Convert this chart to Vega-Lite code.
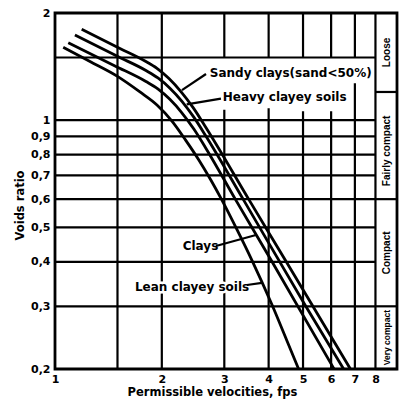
{
  "$schema": "https://vega.github.io/schema/vega-lite/v6.json",
  "width": 342,
  "height": 356,
  "autosize": {"type": "none"},
  "padding": {"left": 55, "top": 13, "right": 5, "bottom": 30},
  "background": "white",
  "config": {"view": {"stroke": "black", "strokeWidth": 2.8}, "font": "DejaVu Sans"},
  "datasets": {
    "curves": [
      {"soil": "Lean clayey soils", "x": 1.055, "y": 1.602},
      {"soil": "Lean clayey soils", "x": 1.255, "y": 1.461},
      {"soil": "Lean clayey soils", "x": 1.5, "y": 1.327},
      {"soil": "Lean clayey soils", "x": 1.735, "y": 1.2},
      {"soil": "Lean clayey soils", "x": 1.938, "y": 1.103},
      {"soil": "Lean clayey soils", "x": 2.136, "y": 0.994},
      {"soil": "Lean clayey soils", "x": 2.334, "y": 0.879},
      {"soil": "Lean clayey soils", "x": 2.543, "y": 0.773},
      {"soil": "Lean clayey soils", "x": 2.749, "y": 0.679},
      {"soil": "Lean clayey soils", "x": 2.944, "y": 0.6},
      {"soil": "Lean clayey soils", "x": 3.263, "y": 0.491},
      {"soil": "Lean clayey soils", "x": 3.606, "y": 0.4},
      {"soil": "Lean clayey soils", "x": 4.088, "y": 0.303},
      {"soil": "Lean clayey soils", "x": 4.498, "y": 0.241},
      {"soil": "Lean clayey soils", "x": 4.859, "y": 0.2},
      {"soil": "Clays", "x": 1.09, "y": 1.651},
      {"soil": "Clays", "x": 1.476, "y": 1.42},
      {"soil": "Clays", "x": 1.804, "y": 1.284},
      {"soil": "Clays", "x": 1.949, "y": 1.224},
      {"soil": "Clays", "x": 2.107, "y": 1.144},
      {"soil": "Clays", "x": 2.278, "y": 1.049},
      {"soil": "Clays", "x": 2.462, "y": 0.944},
      {"soil": "Clays", "x": 2.664, "y": 0.833},
      {"soil": "Clays", "x": 3.221, "y": 0.6},
      {"soil": "Clays", "x": 4.09, "y": 0.4},
      {"soil": "Clays", "x": 6.116, "y": 0.2},
      {"soil": "Heavy clayey soils", "x": 1.138, "y": 1.735},
      {"soil": "Heavy clayey soils", "x": 1.504, "y": 1.509},
      {"soil": "Heavy clayey soils", "x": 1.804, "y": 1.379},
      {"soil": "Heavy clayey soils", "x": 1.95, "y": 1.314},
      {"soil": "Heavy clayey soils", "x": 2.108, "y": 1.23},
      {"soil": "Heavy clayey soils", "x": 2.279, "y": 1.13},
      {"soil": "Heavy clayey soils", "x": 2.464, "y": 1.018},
      {"soil": "Heavy clayey soils", "x": 2.664, "y": 0.901},
      {"soil": "Heavy clayey soils", "x": 3.389, "y": 0.6},
      {"soil": "Heavy clayey soils", "x": 5.09, "y": 0.3},
      {"soil": "Heavy clayey soils", "x": 6.505, "y": 0.2},
      {"soil": "Sandy clays", "x": 1.189, "y": 1.8},
      {"soil": "Sandy clays", "x": 1.524, "y": 1.59},
      {"soil": "Sandy clays", "x": 1.793, "y": 1.466},
      {"soil": "Sandy clays", "x": 1.938, "y": 1.398},
      {"soil": "Sandy clays", "x": 2.095, "y": 1.309},
      {"soil": "Sandy clays", "x": 2.264, "y": 1.203},
      {"soil": "Sandy clays", "x": 2.448, "y": 1.086},
      {"soil": "Sandy clays", "x": 2.646, "y": 0.963},
      {"soil": "Sandy clays", "x": 3.513, "y": 0.6},
      {"soil": "Sandy clays", "x": 4.485, "y": 0.4},
      {"soil": "Sandy clays", "x": 6.8, "y": 0.2}
    ],
    "vgrid": [
      {"x": 1.5, "y1": 0.2, "y2": 2},
      {"x": 2, "y1": 0.2, "y2": 2},
      {"x": 3, "y1": 0.2, "y2": 1.07},
      {"x": 3, "y1": 1.5, "y2": 2},
      {"x": 4, "y1": 0.2, "y2": 1.08},
      {"x": 4, "y1": 1.5, "y2": 2},
      {"x": 5, "y1": 0.2, "y2": 1.06},
      {"x": 5, "y1": 1.5, "y2": 2},
      {"x": 6, "y1": 0.2, "y2": 1.06},
      {"x": 6, "y1": 1.5, "y2": 2},
      {"x": 7, "y1": 0.2, "y2": 1.27},
      {"x": 7, "y1": 1.5, "y2": 2},
      {"x": 8, "y1": 0.2, "y2": 2}
    ],
    "hgrid": [
      {"y": 1.5}, {"y": 1}, {"y": 0.9}, {"y": 0.8}, {"y": 0.7},
      {"y": 0.6}, {"y": 0.5}, {"y": 0.4}, {"y": 0.3}
    ],
    "bands": [
      {"band": "Loose", "y": 1.55, "sep": 1.2},
      {"band": "Fairly compact", "y": 0.82, "sep": 0.6},
      {"band": "Compact", "y": 0.424, "sep": 0.3},
      {"band": "Very compact", "y": 0.245, "sep": 0.2}
    ],
    "labels": [
      {"text": "Sandy clays(sand<50%)", "x": 2.73, "y": 1.36},
      {"text": "Heavy clayey soils", "x": 2.97, "y": 1.16},
      {"text": "Clays", "x": 2.29, "y": 0.443},
      {"text": "Lean clayey soils", "x": 1.68, "y": 0.34}
    ],
    "leaders": [
      {"lead": "Sandy clays", "x": 2.664, "y": 1.348},
      {"lead": "Sandy clays", "x": 2.279, "y": 1.215},
      {"lead": "Heavy clayey soils", "x": 2.935, "y": 1.15},
      {"lead": "Heavy clayey soils", "x": 2.35, "y": 1.107},
      {"lead": "Clays", "x": 2.841, "y": 0.443},
      {"lead": "Clays", "x": 3.684, "y": 0.4757},
      {"lead": "Lean clayey soils", "x": 3.474, "y": 0.3443},
      {"lead": "Lean clayey soils", "x": 3.83, "y": 0.349}
    ]
  },
  "layer": [
    {
      "data": {"name": "vgrid"},
      "mark": {"type": "rule", "color": "black", "strokeWidth": 2.2},
      "encoding": {
        "x": {"field": "x", "type": "quantitative", "scale": {"type": "log", "domain": [1, 9.2], "nice": false},
          "axis": {"values": [1, 2, 3, 4, 5, 6, 7, 8], "format": "~g", "title": "Permissible velocities, fps",
            "domain": false, "ticks": false, "grid": false, "labelFlush": false,
            "labelFont": "DejaVu Sans", "labelFontWeight": "bold", "labelFontSize": 11, "labelColor": "black", "labelPadding": 4,
            "titleFont": "DejaVu Sans", "titleFontWeight": "bold", "titleFontSize": 11.5, "titleColor": "black", "titleX": 157, "titlePadding": 2}},
        "y": {"field": "y1", "type": "quantitative", "scale": {"type": "log", "domain": [0.2, 2], "nice": false},
          "axis": {"values": [0.2, 0.3, 0.4, 0.5, 0.6, 0.7, 0.8, 0.9, 1, 2], "format": "~g",
            "labelExpr": "replace(datum.label, '.', ',')", "title": "Voids ratio",
            "domain": false, "ticks": false, "grid": false, "labelFlush": false,
            "labelFont": "DejaVu Sans", "labelFontWeight": "bold", "labelFontSize": 11, "labelColor": "black", "labelPadding": 5,
            "titleFont": "DejaVu Sans", "titleFontWeight": "bold", "titleFontSize": 11.5, "titleColor": "black", "titleX": -30, "titleY": 192}},
        "y2": {"field": "y2"}
      }
    },
    {
      "data": {"name": "hgrid"},
      "mark": {"type": "rule", "color": "black", "strokeWidth": 2.2},
      "encoding": {
        "y": {"field": "y", "type": "quantitative", "scale": {"type": "log", "domain": [0.2, 2], "nice": false}},
        "x": {"datum": 1, "type": "quantitative", "scale": {"type": "log", "domain": [1, 9.2], "nice": false}},
        "x2": {"datum": 8}
      }
    },
    {
      "data": {"name": "bands"},
      "mark": {"type": "rule", "color": "black", "strokeWidth": 2.2},
      "encoding": {
        "y": {"field": "sep", "type": "quantitative", "scale": {"type": "log", "domain": [0.2, 2], "nice": false}},
        "x": {"datum": 8, "type": "quantitative", "scale": {"type": "log", "domain": [1, 9.2], "nice": false}},
        "x2": {"datum": 9.2}
      }
    },
    {
      "data": {"name": "curves"},
      "mark": {"type": "line", "interpolate": "monotone", "color": "black", "strokeWidth": 2.8},
      "encoding": {
        "x": {"field": "x", "type": "quantitative", "scale": {"type": "log", "domain": [1, 9.2], "nice": false}},
        "y": {"field": "y", "type": "quantitative", "scale": {"type": "log", "domain": [0.2, 2], "nice": false}},
        "detail": {"field": "soil"}
      }
    },
    {
      "data": {"name": "labels"},
      "mark": {"type": "text", "align": "left", "baseline": "middle", "font": "DejaVu Sans", "fontWeight": "bold", "fontSize": 12, "fill": "white", "stroke": "white", "strokeWidth": 5},
      "encoding": {
        "x": {"field": "x", "type": "quantitative", "scale": {"type": "log", "domain": [1, 9.2], "nice": false}},
        "y": {"field": "y", "type": "quantitative", "scale": {"type": "log", "domain": [0.2, 2], "nice": false}},
        "text": {"field": "text"}
      }
    },
    {
      "data": {"name": "leaders"},
      "mark": {"type": "line", "color": "black", "strokeWidth": 2.2},
      "encoding": {
        "x": {"field": "x", "type": "quantitative", "scale": {"type": "log", "domain": [1, 9.2], "nice": false}},
        "y": {"field": "y", "type": "quantitative", "scale": {"type": "log", "domain": [0.2, 2], "nice": false}},
        "detail": {"field": "lead"}
      }
    },
    {
      "data": {"name": "labels"},
      "mark": {"type": "text", "align": "left", "baseline": "middle", "font": "DejaVu Sans", "fontWeight": "bold", "fontSize": 12, "color": "black"},
      "encoding": {
        "x": {"field": "x", "type": "quantitative", "scale": {"type": "log", "domain": [1, 9.2], "nice": false}},
        "y": {"field": "y", "type": "quantitative", "scale": {"type": "log", "domain": [0.2, 2], "nice": false}},
        "text": {"field": "text"}
      }
    },
    {
      "data": {"name": "bands"},
      "transform": [{"filter": "datum.band != 'Very compact'"}],
      "mark": {"type": "text", "align": "center", "baseline": "middle", "angle": 270, "font": "Liberation Sans", "fontWeight": "bold", "fontSize": 10, "color": "black"},
      "encoding": {
        "x": {"datum": 8.6, "type": "quantitative", "scale": {"type": "log", "domain": [1, 9.2], "nice": false}},
        "y": {"field": "y", "type": "quantitative", "scale": {"type": "log", "domain": [0.2, 2], "nice": false}},
        "text": {"field": "band"}
      }
    },
    {
      "data": {"name": "bands"},
      "transform": [{"filter": "datum.band == 'Very compact'"}],
      "mark": {"type": "text", "align": "center", "baseline": "middle", "angle": 270, "font": "Liberation Sans", "fontWeight": "bold", "fontSize": 8.5, "color": "black"},
      "encoding": {
        "x": {"datum": 8.6, "type": "quantitative", "scale": {"type": "log", "domain": [1, 9.2], "nice": false}},
        "y": {"field": "y", "type": "quantitative", "scale": {"type": "log", "domain": [0.2, 2], "nice": false}},
        "text": {"field": "band"}
      }
    }
  ]
}
